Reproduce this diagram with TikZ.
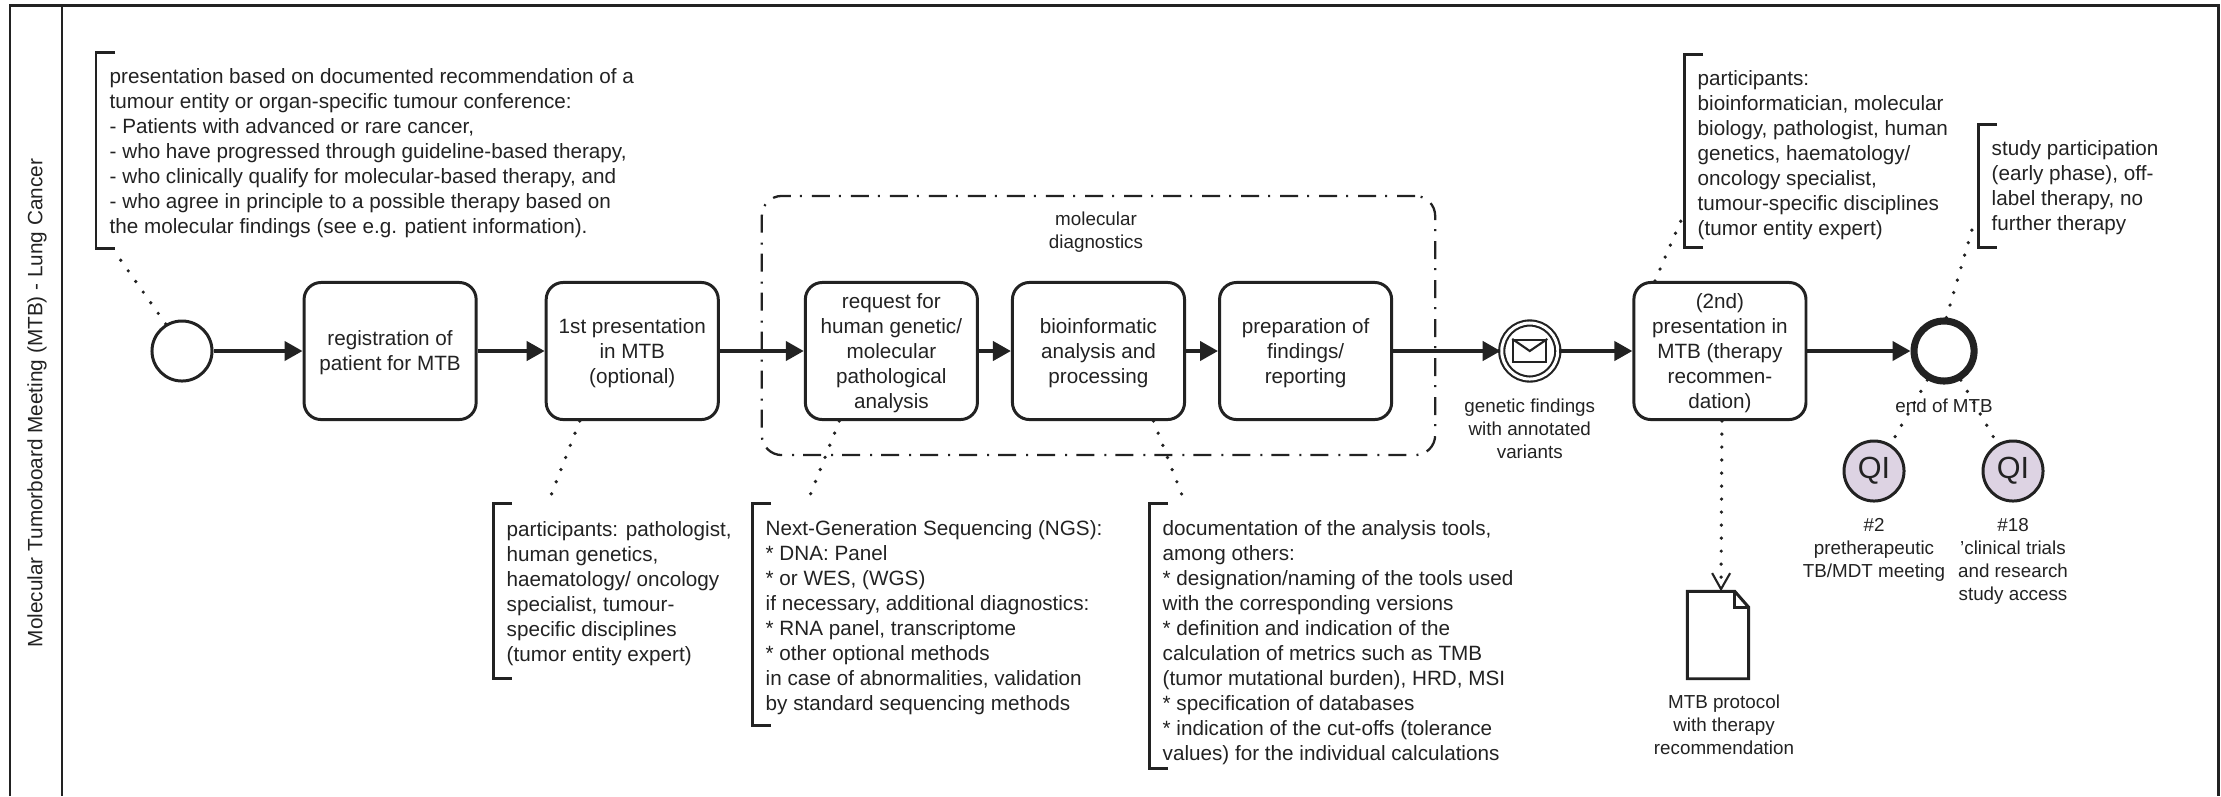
\documentclass[tikz,border=0pt]{standalone}
\usepackage{fontspec}
\setmainfont{Liberation Sans}
\usepackage{tikz}
\usetikzlibrary{arrows.meta,positioning}
\definecolor{inkc}{HTML}{222222}
\definecolor{qifill}{HTML}{DDD3E3}
\newcommand{\firstline}[1]{\rule{0pt}{#1}}

\begin{document}
\begin{tikzpicture}[
  x=0.01cm, y=-0.01cm,
  node distance=0.67cm,
  color=inkc,
  taskbox/.style={draw, rounded corners=0.17cm, line width=0.85pt, minimum width=1.72cm,
              minimum height=1.37cm, inner sep=0pt, align=center,
              font=\fontsize{5.88}{7.11}\selectfont},
  event/.style={draw, circle, line width=0.85pt, minimum size=0.6cm, inner sep=0pt},
  qicircle/.style={event, fill=qifill, font=\fontsize{8.7}{10}\selectfont},
  flow/.style={-{Triangle[length=0.18cm,width=0.19cm]}, line width=1.15pt},
  assoc/.style={line width=1.05pt, line cap=round, dash pattern=on 0pt off 0.13cm},
  note/.style={anchor=north west, align=left, inner xsep=0.13cm, inner ysep=0pt,
              font=\fontsize{5.88}{7.11}\selectfont},
  bracket/.style={line width=0.85pt},
  caption/.style={align=center, inner sep=0pt, font=\fontsize{5.35}{6.54}\selectfont}
]
\useasboundingbox (0,0) rectangle (2221,796);

% pool and lane
\draw[line width=0.85pt] (10,796) -- (10,5) -- (2218,5) -- (2218,796);
\draw[line width=0.85pt] (62,5) -- (62,796);
\node[rotate=90, inner sep=0pt, font=\fontsize{5.9}{7}\selectfont] (lanetitle) at (37,403)
  {Molecular Tumorboard Meeting (MTB) - Lung Cancer};

% main row
\node[event] (startev) at (182,351) {};
\node[taskbox] (regbox) [right=0.89cm of startev] {\firstline{5.4pt}registration of\\patient for MTB};
\node[taskbox] (firstbox) [right=of regbox] {\firstline{5.4pt}1st presentation\\in MTB\\(optional)};
\node[taskbox] (reqbox) [right=0.84cm of firstbox] {\firstline{5.4pt}request for\\human genetic/\\molecular\\pathological\\analysis};
\node[taskbox] (biobox) [right=0.32cm of reqbox] {\firstline{5.4pt}bioinformatic\\analysis and\\processing};
\node[taskbox] (prepbox) [right=0.32cm of biobox] {\firstline{5.4pt}preparation of\\findings/\\reporting};
\node[event, double, double distance=0.03cm, line width=0.6pt, minimum size=0.56cm] (msgev) [right=1.075cm of prepbox] {};
\node[taskbox] (secondbox) [right=0.735cm of msgev] {\firstline{5.4pt}(2nd)\\presentation in\\MTB (therapy\\recommen-\\dation)};
\node[event, line width=2pt] (endev) [right=1.03cm of secondbox] {};

% envelope
\node[draw, line width=0.6pt, minimum width=0.33cm, minimum height=0.22cm, inner sep=0pt] (envelope) at (msgev) {};
\draw[line width=0.6pt] (envelope.north west) -- (envelope.center) -- (envelope.north east);

% group
\node[draw, rounded corners=0.2cm, line width=0.65pt, minimum width=6.73cm, minimum height=2.59cm,
      dash pattern=on 0.18cm off 0.1cm on 0.02cm off 0.09cm] (molgroup) at (1098.5,325.5) {};
\node[caption] (molcaption) at (1096,232) {molecular\\diagnostics};

\foreach \a/\b in {startev/regbox,regbox/firstbox,firstbox/reqbox,reqbox/biobox,biobox/prepbox,prepbox/msgev,msgev/secondbox,secondbox/endev}
  \draw[flow] (\a) -- (\b);

% captions and QI
\node[caption] (msgcaption) [below=0.18cm of msgev] {genetic findings\\with annotated\\variants};
\node[caption] (endcaption) [below=0.14cm of endev] {end of MTB};
\node[qicircle] (qia) at (1874,471) {QI};
\node[qicircle] (qib) at (2013,471) {QI};
\node[caption] (qiacaption) [below=0.15cm of qia] {\#2\\pretherapeutic\\TB/MDT meeting};
\node[caption, anchor=north] (qibcaption) at (qib.south |- qiacaption.north) {\#18\\'clinical trials\\and research\\study access};

% protocol
\node[minimum width=0.6cm, minimum height=0.86cm, inner sep=0pt] (mtbdoc) at (1718,635) {};
\draw[line width=0.85pt] (mtbdoc.south west) -- (mtbdoc.north west) -- ([xshift=-0.14cm]mtbdoc.north east)
  -- ([yshift=-0.16cm]mtbdoc.north east) -- (mtbdoc.south east) -- cycle;
\draw[line width=0.85pt] ([xshift=-0.14cm]mtbdoc.north east) -- ([xshift=-0.14cm,yshift=-0.16cm]mtbdoc.north east)
  -- ([yshift=-0.16cm]mtbdoc.north east);
\node[caption] (doccaption) [below=0.15cm of mtbdoc, xshift=0.06cm] {MTB protocol\\with therapy\\recommendation};
\draw[assoc, -{Straight Barb[length=0.16cm,width=0.18cm,line width=0.6pt]}] ([xshift=0.02cm]secondbox.south) -- ([xshift=0.03cm]mtbdoc.north);

% notes
\node[note, minimum height=1.95cm] (notea) at (96,52) {\firstline{6pt}presentation based on documented recommendation of a\\tumour entity or organ-specific tumour conference:\\- Patients with advanced or rare cancer,\\- who have progressed through guideline-based therapy,\\- who clinically qualify for molecular-based therapy, and\\- who agree in principle to a possible therapy based on\\the molecular findings (see e.g. patient information).};
\node[note, minimum height=1.74cm] (noteb) at (493,503) {\firstline{6pt}participants: pathologist,\\human genetics,\\haematology/ oncology\\specialist, tumour-\\specific disciplines\\(tumor entity expert)};
\node[note, minimum height=2.21cm] (notec) at (752,503) {\firstline{6pt}Next-Generation Sequencing (NGS):\\* DNA: Panel\\* or WES, (WGS)\\if necessary, additional diagnostics:\\* RNA panel, transcriptome\\* other optional methods\\in case of abnormalities, validation\\by standard sequencing methods};
\node[note, minimum height=2.64cm] (noted) at (1149,503) {\firstline{8.2pt}documentation of the analysis tools,\\among others:\\* designation/naming of the tools used\\with the corresponding versions\\* definition and indication of the\\calculation of metrics such as TMB\\(tumor mutational burden), HRD, MSI\\* specification of databases\\* indication of the cut-offs (tolerance\\values) for the individual calculations};
\node[note, minimum height=1.92cm] (notee) at (1684,54) {\firstline{6.6pt}participants:\\bioinformatician, molecular\\biology, pathologist, human\\genetics, haematology/\\oncology specialist,\\tumour-specific disciplines\\(tumor entity expert)};
\node[note, minimum height=1.22cm] (notef) at (1978,124) {\firstline{5.5pt}study participation\\(early phase), off-\\label therapy, no\\further therapy};

\foreach \n in {notea,noteb,notec,noted,notee,notef}
  \draw[bracket] ([xshift=0.19cm]\n.north west) -- (\n.north west) -- (\n.south west) -- ([xshift=0.19cm]\n.south west);

% associations
\draw[assoc] (startev.121) -- ([xshift=0.2cm,yshift=-0.05cm]notea.south west);
\draw[assoc] ([xshift=-0.525cm]firstbox.south) -- ([xshift=0.55cm]noteb.north west);
\draw[assoc] ([xshift=-0.52cm]reqbox.south) -- ([xshift=0.55cm]notec.north west);
\draw[assoc] ([xshift=0.55cm]biobox.south) -- ([xshift=0.36cm]noted.north west);
\draw[assoc] ([xshift=-0.65cm]secondbox.north) -- ([xshift=-0.03cm,yshift=0.27cm]notee.south west);
\draw[assoc] (endev.86) -- ([xshift=-0.03cm,yshift=0.28cm]notef.south west);
\draw[assoc] (endev.240) -- (qia.58);
\draw[assoc] (endev.-60) -- (qib.120);
\end{tikzpicture}
\end{document}
